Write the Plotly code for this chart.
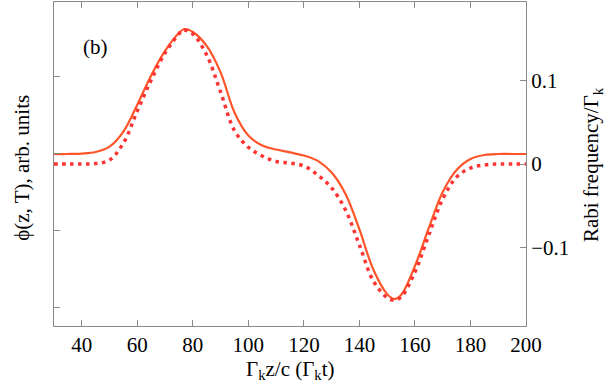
import plotly.graph_objects as go

# Solid curve: phi(z, T) on left axis (arb. units)
x_solid = [30, 35, 40, 45, 50, 55, 60, 65, 70, 75, 77, 80, 85, 90, 95, 100, 105, 110, 115,
           120, 125, 130, 135, 140, 145, 150, 152.5, 155, 160, 165, 170, 175, 180, 185, 190, 195, 200]
phi_solid = [0.0, 0.0, 0.0006, 0.0026, 0.0095, 0.0290, 0.0640, 0.1020, 0.1338, 0.1571, 0.1623,
             0.1584, 0.1403, 0.1060, 0.0540, 0.0240, 0.0110, 0.0058, 0.0020,
             -0.0020, -0.0090, -0.0240, -0.0520, -0.0980, -0.1500, -0.1820, -0.1883, -0.1830,
             -0.1455, -0.0961, -0.0494, -0.0208, -0.0065, -0.0013, 0.0, 0.0, 0.0]

# Dotted curve: Rabi frequency / Gamma_k on right axis
x_dot = [30, 35, 40, 45, 50, 55, 60, 65, 70, 75, 76.5, 80, 85, 90, 95, 100, 105, 110, 115,
         120, 125, 130, 135, 140, 145, 150, 152.5, 155, 160, 165, 170, 175, 180, 185, 190, 195, 200]
rabi_dot = [0.0, 0.0, 0.0, 0.0006, 0.0048, 0.0251, 0.0635, 0.1006, 0.1329, 0.1557, 0.1605,
            0.1557, 0.1305, 0.0862, 0.0400, 0.0200, 0.0096, 0.0030, 0.0012,
            -0.0024, -0.0132, -0.0287, -0.0551, -0.0970, -0.1400, -0.1600, -0.1629, -0.1593,
            -0.1293, -0.0850, -0.0419, -0.0156, -0.0048, -0.0012, 0.0, 0.0, 0.0]

x_ticks = [40, 60, 80, 100, 120, 140, 160, 180, 200]
left_ticks = [-0.2, -0.1, 0.0, 0.1]
right_ticks = [-0.1, 0.0, 0.1]
right_ticktext = ["\u22120.1", "0", "0.1"]

FONT = "'Liberation Serif', 'Times New Roman', Times, serif"
FS = 21
AX = "#8a8a8a"

fig = go.Figure()
fig.add_trace(go.Scatter(x=x_solid, y=phi_solid, mode="lines",
                         line=dict(color="#ff5528", width=2.2, shape="spline"),
                         yaxis="y", showlegend=False))
fig.add_trace(go.Scatter(x=x_dot, y=rabi_dot, mode="lines",
                         line=dict(color="#ff3333", width=3.5, dash="3.5px,4.5px", shape="spline"),
                         yaxis="y2", showlegend=False))

fig.update_layout(
    width=612, height=390,
    margin=dict(l=54, r=86, t=2, b=64),
    paper_bgcolor="white", plot_bgcolor="white",
    font=dict(family=FONT, size=FS, color="black"),
    xaxis=dict(range=[30, 200], tickvals=x_ticks, ticks="inside", ticklen=6,
               tickcolor=AX, showline=True, linecolor=AX, linewidth=1, mirror="ticks",
               showgrid=False, zeroline=False, tickfont=dict(family=FONT, size=FS)),
    yaxis=dict(range=[-0.2234, 0.1974], tickvals=left_ticks, showticklabels=False,
               ticks="inside", ticklen=6, tickcolor=AX, showline=True, linecolor=AX,
               linewidth=1, showgrid=False, zeroline=False),
    yaxis2=dict(range=[-0.194, 0.194], tickvals=right_ticks, ticktext=right_ticktext,
                overlaying="y", side="right", ticks="inside", ticklen=6, tickcolor=AX,
                showline=True, linecolor=AX, linewidth=1, showgrid=False, zeroline=False,
                tickfont=dict(family=FONT, size=FS)),
    annotations=[
        dict(text="\u0393<sub>k</sub>z/c (\u0393<sub>k</sub>t)", xref="paper", yref="paper",
             x=0.5, y=-0.135, xanchor="center", yanchor="middle", showarrow=False,
             font=dict(family=FONT, size=FS)),
        dict(text="\u03d5(z, T), arb. units", xref="paper", yref="paper",
             x=-0.068, y=0.488, xanchor="center", yanchor="middle", textangle=-90,
             showarrow=False, font=dict(family=FONT, size=FS)),
        dict(text="Rabi frequency/\u0393<sub>k</sub>", xref="paper", yref="paper",
             x=1.14, y=0.497, xanchor="center", yanchor="middle", textangle=-90,
             showarrow=False, font=dict(family=FONT, size=FS)),
        dict(text="(b)", xref="paper", yref="paper", x=0.087, y=0.861,
             xanchor="center", yanchor="middle", showarrow=False,
             font=dict(family=FONT, size=FS)),
    ],
)

fig.write_html("out.html")
